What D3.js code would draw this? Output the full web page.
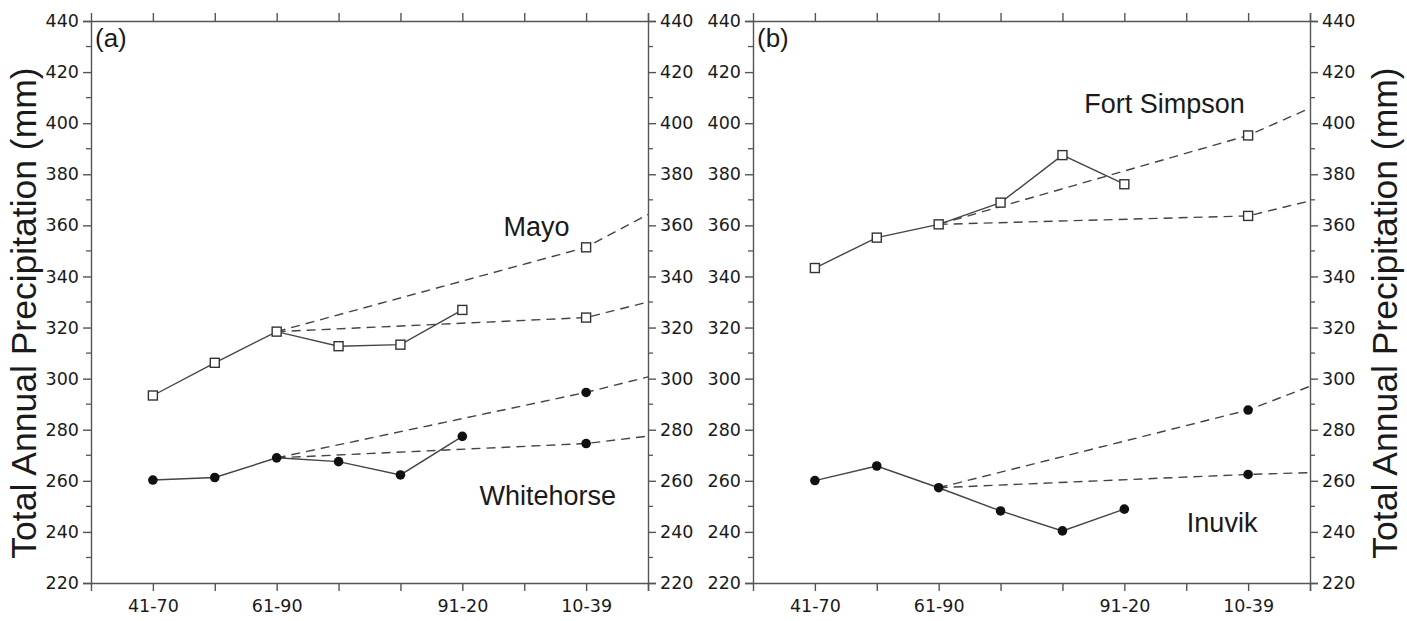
<!DOCTYPE html>
<html>
<head>
<meta charset="utf-8">
<script src="https://cdn.jsdelivr.net/npm/d3@7"></script>
<style>
  body { margin: 0; background: #fff; }
  .tick text { font-family: "DejaVu Sans", Verdana, sans-serif; font-size: 17.5px; fill: #1a1a1a; }
  .axis path, .axis line { stroke: #555; stroke-width: 1.4; }
  .lbl { font-family: "Liberation Sans", Arial, sans-serif; fill: #1a1a1a; }
</style>
</head>
<body>
<div id="chart"></div>
<script>
// x positions are period indices; only some ticks carry a label
var tickLabels = ["41-70", "", "61-90", "", "", "91-20", "", "10-39", ""];
var obsX = [0, 1, 2, 3, 4, 5];
var projX = [2, 7, 8];
var yTicks = [220, 240, 260, 280, 300, 320, 340, 360, 380, 400, 420, 440];

// (a) Yukon
var mayo = [293.4, 306.2, 318.4, 312.7, 313.3, 326.9];
var mayoHigh = [318.4, 351.4, 364.3];
var mayoLow = [318.4, 323.9, 330.0];
var whitehorse = [260.3, 261.3, 269.0, 267.5, 262.3, 277.4];
var whitehorseHigh = [269.0, 294.6, 300.7];
var whitehorseLow = [269.0, 274.6, 277.5];

// (b) NWT
var fortSimpson = [343.3, 355.2, 360.4, 368.9, 387.5, 376.1];
var fortSimpsonHigh = [360.4, 395.2, 405.9];
var fortSimpsonLow = [360.4, 363.7, 369.6];
var inuvik = [260.1, 265.8, 257.3, 248.2, 240.4, 248.9];
var inuvikHigh = [257.3, 287.7, 297.0];
var inuvikLow = [257.3, 262.5, 263.2];

var W = 1407, H = 621;
var plotTop = 21, plotBottom = 583, pw = 557;

var svg = d3.select("#chart").append("svg")
    .attr("width", W)
    .attr("height", H);

var y = d3.scaleLinear().domain([220, 440]).range([plotBottom, plotTop]);
var minorTicks = d3.range(230, 440, 20);

function zip(xs, vs) {
    return xs.map(function(x, i) { return [x, vs[i]]; });
}

function drawPanel(left, tag, upper, lower) {
    var x = d3.scaleLinear().domain([-1, 8]).range([left, left + pw]);
    var g = svg.append("g");

    // minor y ticks on both sides
    [[left, -5], [left + pw, 5]].forEach(function(s) {
        g.selectAll(null).data(minorTicks).enter().append("line")
            .attr("x1", s[0]).attr("x2", s[0] + s[1])
            .attr("y1", function(d) { return y(d); })
            .attr("y2", function(d) { return y(d); })
            .attr("stroke", "#555").attr("stroke-width", 1.3);
    });

    g.append("g").attr("class", "axis")
        .attr("transform", "translate(" + left + ",0)")
        .call(d3.axisLeft(y).tickValues(yTicks).tickSize(8).tickPadding(4));
    g.append("g").attr("class", "axis")
        .attr("transform", "translate(" + (left + pw) + ",0)")
        .call(d3.axisRight(y).tickValues(yTicks).tickSize(8).tickPadding(4));

    g.append("g").attr("class", "axis")
        .attr("transform", "translate(0," + plotBottom + ")")
        .call(d3.axisBottom(x).tickValues(d3.range(0, 9)).tickSize(8).tickPadding(9)
            .tickFormat(function(d) { return tickLabels[d]; }));
    g.append("g").attr("class", "axis")
        .attr("transform", "translate(0," + plotTop + ")")
        .call(d3.axisTop(x).tickValues(d3.range(0, 9)).tickSize(8).tickFormat(""));
    g.selectAll(".domain").attr("stroke-width", 1.5);

    g.append("text").attr("class", "lbl")
        .attr("x", left + 4).attr("y", plotTop + 26)
        .style("font-size", "26px").text(tag);

    var line = d3.line()
        .x(function(d) { return x(d[0]); })
        .y(function(d) { return y(d[1]); });

    [upper, lower].forEach(function(st) {
        [st.high, st.low].forEach(function(p) {
            g.append("path").datum(zip(projX, p))
                .attr("d", line).attr("fill", "none")
                .attr("stroke", "#444").attr("stroke-width", 1.4)
                .attr("stroke-dasharray", "9,6");
        });
        g.append("path").datum(zip(obsX, st.obs))
            .attr("d", line).attr("fill", "none")
            .attr("stroke", "#444").attr("stroke-width", 1.4);

        var pts = zip(obsX, st.obs).concat([[7, st.high[1]], [7, st.low[1]]]);
        if (st.square) {
            g.selectAll(null).data(pts).enter().append("rect")
                .attr("x", function(d) { return x(d[0]) - 4.5; })
                .attr("y", function(d) { return y(d[1]) - 4.5; })
                .attr("width", 9).attr("height", 9)
                .attr("fill", "#fff").attr("stroke", "#333").attr("stroke-width", 1.4);
        } else {
            g.selectAll(null).data(pts).enter().append("circle")
                .attr("cx", function(d) { return x(d[0]); })
                .attr("cy", function(d) { return y(d[1]); })
                .attr("r", 4.8).attr("fill", "#111");
        }
        g.append("text").attr("class", "lbl")
            .attr("x", x(st.lx)).attr("y", y(st.ly))
            .attr("text-anchor", "middle")
            .style("font-size", "27px").text(st.name);
    });
}

drawPanel(91, "(a)",
    { name: "Mayo", obs: mayo, high: mayoHigh, low: mayoLow, square: true, lx: 6.2, ly: 356 },
    { name: "Whitehorse", obs: whitehorse, high: whitehorseHigh, low: whitehorseLow, square: false, lx: 6.38, ly: 250.5 });
drawPanel(753, "(b)",
    { name: "Fort Simpson", obs: fortSimpson, high: fortSimpsonHigh, low: fortSimpsonLow, square: true, lx: 5.65, ly: 404 },
    { name: "Inuvik", obs: inuvik, high: inuvikHigh, low: inuvikLow, square: false, lx: 6.58, ly: 240 });

// y axis titles
[36, 1397].forEach(function(tx) {
    svg.append("text").attr("class", "lbl")
        .attr("transform", "translate(" + tx + "," + y(325.7) + ") rotate(-90)")
        .attr("text-anchor", "middle")
        .style("font-size", "35.5px")
        .text("Total Annual Precipitation (mm)");
});
</script>
</body>
</html>
